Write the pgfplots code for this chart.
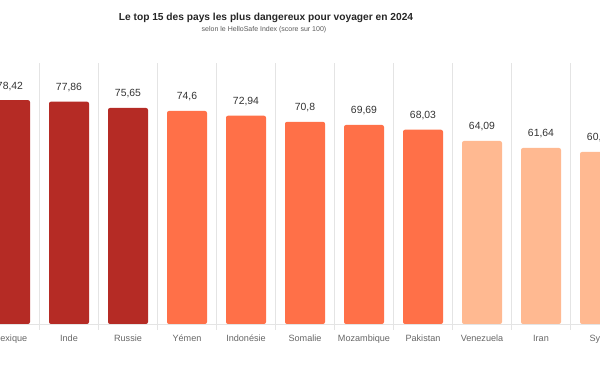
\documentclass[border=0pt]{standalone}
\usepackage{pgfplots}
\pgfplotsset{compat=1.18}
\usepackage{pgfplotstable}
\usepackage{fontspec}
\setmainfont{Liberation Sans}
\definecolor{cdark}{RGB}{181,43,37}
\definecolor{corange}{RGB}{255,112,72}
\definecolor{cpeach}{RGB}{255,185,145}
\definecolor{cgrid}{RGB}{228,228,228}
\definecolor{cval}{RGB}{51,51,51}
\definecolor{clab}{RGB}{102,102,102}
\pgfplotstableread[col sep=comma]{
x,y,lab
0,78.42,{78,42}
1,77.86,{77,86}
2,75.65,{75,65}
}\tdark
\pgfplotstableread[col sep=comma]{
x,y,lab
3,74.6,{74,6}
4,72.94,{72,94}
5,70.8,{70,8}
6,69.69,{69,69}
7,68.03,{68,03}
}\torange
\pgfplotstableread[col sep=comma]{
x,y,lab
8,64.09,{64,09}
9,61.64,{61,64}
10,60.25,{60,25}
}\tpeach
\begin{document}
\begin{tikzpicture}
\begin{axis}[
  at={(0pt,48pt)}, anchor=south west,
  scale only axis, width=600pt, height=261pt,
  xmin=-0.1695, xmax=10, ymin=0, ymax=91.4,
  axis y line=none,
  axis x line*=bottom,
  x axis line style={draw=cgrid,-},
  xtick={0,...,10},
  xticklabels={Mexique,Inde,Russie,Yémen,Indonésie,Somalie,Mozambique,Pakistan,Venezuela,Iran,Syrie},
  major tick length=0pt,
  minor xtick={0.5,1.5,...,9.5},
  minor tick length=6pt,
  tick align=outside,
  xminorgrids=true,
  minor grid style={draw=cgrid, line width=0.6pt},
  minor tick style={draw=cgrid, line width=0.6pt},
  xticklabel style={font=\fontsize{9.1}{10}\selectfont, text=clab, anchor=base, yshift=-17.5pt},
  ybar, bar width=40pt,
  nodes near coords,
  point meta=explicit symbolic,
  every node near coord/.style={font=\fontsize{10.4}{11}\selectfont, text=cval, anchor=base, inner sep=0pt, yshift=11pt},
]
\addplot[fill=cdark, draw=none, bar shift=0pt, rounded corners=2pt] table[x=x, y=y, meta=lab] {\tdark};
\addplot[fill=corange, draw=none, bar shift=0pt, rounded corners=2pt] table[x=x, y=y, meta=lab] {\torange};
\addplot[fill=cpeach, draw=none, bar shift=0pt, rounded corners=2pt] table[x=x, y=y, meta=lab] {\tpeach};
\end{axis}
\node[font=\bfseries\fontsize{10.2}{12}\selectfont, text=black!85] at (266pt,354pt) {Le top 15 des pays les plus dangereux pour voyager en 2024};
\node[font=\fontsize{7}{8}\selectfont, text=black!65] at (264pt,342pt) {selon le HelloSafe Index (score sur 100)};
\pgfresetboundingbox
\useasboundingbox (0pt,0pt) rectangle (600pt,372pt);
\end{tikzpicture}
\end{document}
